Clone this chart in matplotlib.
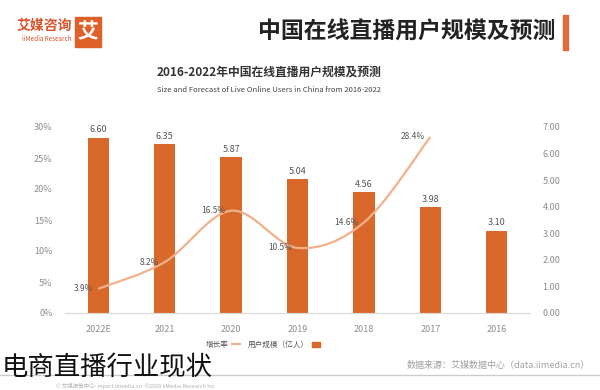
import numpy as np
import matplotlib
matplotlib.use("Agg")
import matplotlib.pyplot as plt
from matplotlib.path import Path
from matplotlib.patches import PathPatch, Rectangle
from matplotlib.lines import Line2D

plt.rcParams['font.family'] = ['Noto Sans CJK SC', 'DejaVu Sans']

# ---- data ----
years = ["2016", "2017", "2018", "2019", "2020", "2021", "2022E"]
users = [3.10, 3.98, 4.56, 5.04, 5.87, 6.35, 6.60]           # 亿人
growth_years = ["2017", "2018", "2019", "2020", "2021", "2022E"]
growth = [28.4, 14.6, 10.5, 16.5, 8.2, 3.9]                   # %
pct_ticks = [0, 5, 10, 15, 20, 25, 30]
val_ticks = [0, 1, 2, 3, 4, 5, 6, 7]

BAR = "#D9692A"
LINE = "#F2B08C"
GREY = "#8c8c8c"
DARK = "#555555"

fig = plt.figure(figsize=(6.0, 3.9), dpi=100)
fig.patch.set_facecolor("white")

# ---- header ----
fig.add_artist(Rectangle((563 / 600, 1 - 50 / 390), 5 / 600, 35 / 390,
                         transform=fig.transFigure, color="#E06A3A"))
fig.text(555 / 600, 1 - 32 / 390, "中国在线直播用户规模及预测", ha="right", va="center",
         fontsize=16.5, fontweight="bold", color="#222222")
fig.add_artist(Rectangle((75 / 600, 1 - 47 / 390), 26 / 600, 30 / 390,
                         transform=fig.transFigure, color="#E0602A"))
fig.text(88 / 600, 1 - 32 / 390, "艾", ha="center", va="center", fontsize=15,
         fontweight="bold", color="white")
fig.text(72 / 600, 1 - 26 / 390, "艾媒咨询", ha="right", va="center", fontsize=10,
         fontweight="bold", color="#D9542A")
fig.text(72 / 600, 1 - 39 / 390, "iiMedia Research", ha="right", va="center",
         fontsize=4.5, color="#D9542A")

fig.text(269 / 600, 1 - 72 / 390, "2016-2022年中国在线直播用户规模及预测", ha="center",
         va="center", fontsize=8.5, fontweight="bold", color="#333333")
fig.text(269 / 600, 1 - 90 / 390, "Size and Forecast of Live Online Users in China from 2016-2022",
         ha="center", va="center", fontsize=5.5, color="#444444")

# ---- chart ----
ax = fig.add_axes([65 / 600, 77 / 390, 465 / 600, 186 / 390])
axl = ax.twinx()

x = np.arange(len(years))
ax.bar(x, users, width=0.32, color=BAR, zorder=2)
for xi, v in zip(x, users):
    ax.text(xi, v + 0.12, f"{v:.2f}", ha="center", va="bottom", fontsize=6.5, color=DARK)
ax.set_xlim(len(years) - 0.5, -0.5)
ax.set_ylim(0, 7)
ax.set_xticks(x)
ax.set_xticklabels(years, fontsize=6.5, color=GREY)
ax.yaxis.tick_right()
ax.yaxis.set_label_position("right")
ax.set_yticks(val_ticks)
ax.set_yticklabels([f"{v:.2f}" for v in val_ticks], fontsize=6.5, color=GREY)
ax.tick_params(length=0, pad=9)
for s in ["top", "left", "right"]:
    ax.spines[s].set_visible(False)
ax.spines["bottom"].set_color("#d9d9d9")

axl.set_ylim(0, 30)
axl.yaxis.tick_left()
axl.set_yticks(pct_ticks)
axl.set_yticklabels([f"{v}%" for v in pct_ticks], fontsize=6.5, color=GREY)
axl.tick_params(length=0, pad=9)
for s in axl.spines.values():
    s.set_visible(False)

# smoothed growth line (Bezier through the points)
gx = np.array([years.index(y) for y in growth_years], dtype=float)
gy = np.array(growth, dtype=float)
pts = np.column_stack([gx, gy])
verts = [tuple(pts[0])]
codes = [Path.MOVETO]
n = len(pts)
for i in range(n - 1):
    p0 = pts[max(i - 1, 0)]
    p1 = pts[i]
    p2 = pts[i + 1]
    p3 = pts[min(i + 2, n - 1)]
    c1 = p1 + (p2 - p0) / 6.0
    c2 = p2 - (p3 - p1) / 6.0
    verts += [tuple(c1), tuple(c2), tuple(p2)]
    codes += [Path.CURVE4] * 3
axl.add_patch(PathPatch(Path(verts, codes), facecolor="none", edgecolor=LINE, lw=1.6, zorder=3))
for xi, v in zip(gx, gy):
    axl.text(xi + 0.08, v, f"{v:.1f}%", ha="right", va="center", fontsize=6, color=DARK)

# legend
handles = [Line2D([0], [0], color=LINE, lw=1.6, label="增长率"),
           Rectangle((0, 0), 1, 1, color=BAR, label="用户规模（亿人）")]
fig.legend(handles=handles, loc="center", bbox_to_anchor=(263 / 600, 1 - 345 / 390), ncol=2,
           frameon=False, fontsize=5.5, markerfirst=False, handlelength=1.1, handleheight=0.6,
           handletextpad=0.4, columnspacing=1.0, labelcolor=DARK)

# ---- footer ----
fig.text(590 / 600, 1 - 365 / 390, "数据来源：艾媒数据中心（data.iimedia.cn）", ha="right",
         va="center", fontsize=6.5, color="#a0a0a0")
fig.add_artist(Line2D([0, 1], [1 - 375 / 390] * 2, transform=fig.transFigure,
                      color="#cccccc", lw=1))
fig.text(215 / 600, 1 - 385.5 / 390, "© 艾媒报告中心: report.iimedia.cn  ©2020 iiMedia Research Inc",
         ha="right", va="center", fontsize=4, color="#b0b0b0")
fig.text(2 / 600, 1 - 367 / 390, "电商直播行业现状", ha="left", va="center", fontsize=19,
         color="#111111")

fig.savefig("out.png", dpi=100, facecolor="white")
